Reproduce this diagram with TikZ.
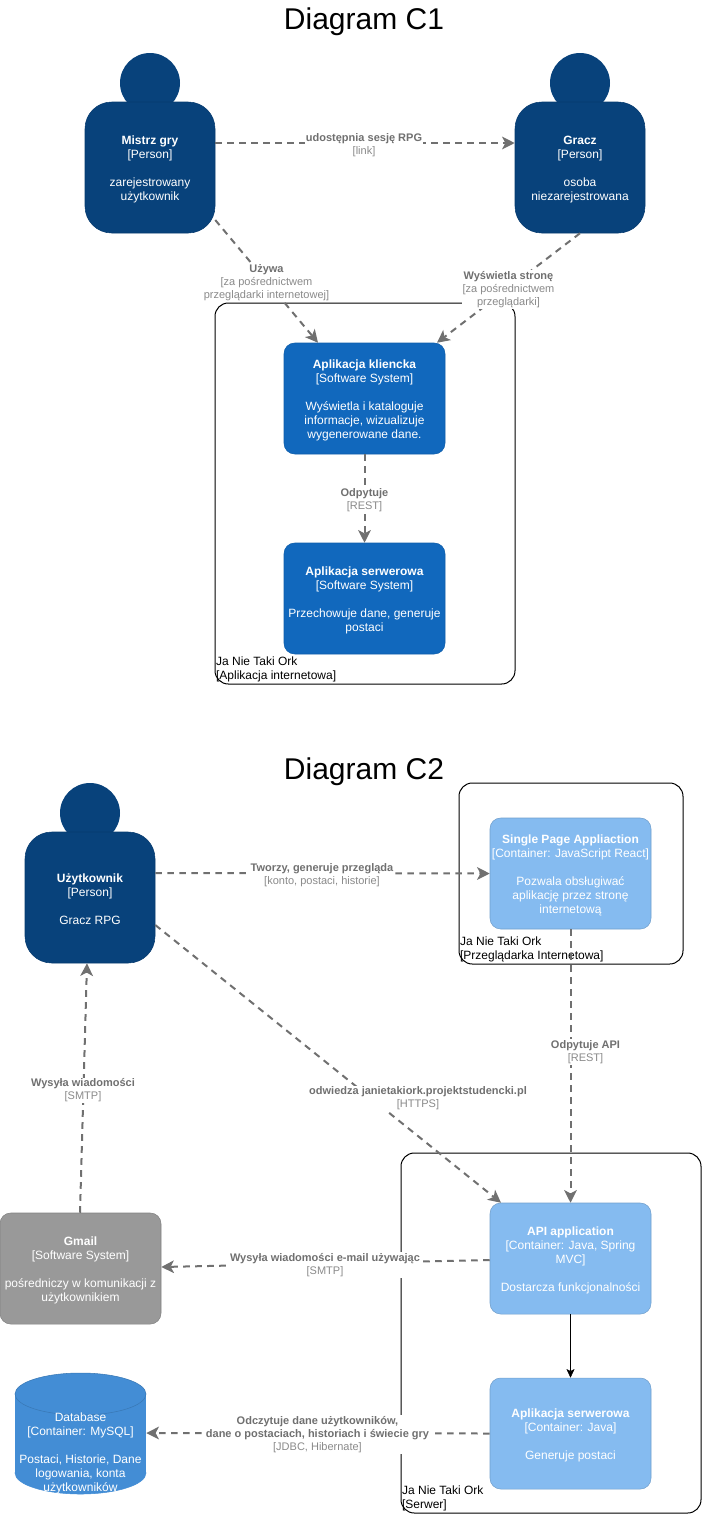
\documentclass[tikz,border=0pt]{standalone}
\usepackage{fontspec}
\setmainfont{Liberation Sans}
\usetikzlibrary{arrows.meta}

\definecolor{personblue}{HTML}{08427B}
\definecolor{systemblue}{HTML}{1168BD}
\definecolor{containerblue}{HTML}{85BBF0}
\definecolor{databaseblue}{HTML}{438DD5}
\definecolor{gmailgray}{HTML}{999999}
\definecolor{relgray}{HTML}{707070}
\definecolor{descgray}{HTML}{8A8A8A}

\newcommand{\reldesc}[1]{{\color{descgray}#1}}
\newcommand{\boxname}[1]{\rule{0pt}{9.5pt}\textbf{#1}}

\tikzset{
  titletext/.style={font=\fontsize{22.5}{26}\selectfont, inner sep=0pt},
  boxbase/.style={rectangle, rounded corners=8pt, draw, text=white, align=center, inner sep=0pt,
    minimum width=120.75pt, minimum height=83.25pt, font=\fontsize{9}{10.5}\selectfont},
  personbody/.style={boxbase, fill=personblue, draw=personblue!90!black, rounded corners=20pt,
    minimum width=97.5pt, minimum height=98.25pt},
  personhead/.style={fill=personblue},
  systembox/.style={boxbase, fill=systemblue, draw=systemblue!90!black},
  containerbox/.style={boxbase, fill=containerblue, draw=containerblue!85!black},
  gmailbox/.style={boxbase, fill=gmailgray, draw=gmailgray!85!black},
  databasebox/.style={text=white, align=center, inner sep=0pt, minimum width=98.25pt,
    font=\fontsize{9}{10.5}\selectfont},
  boundary/.style={rectangle, draw=black, line width=0.75pt, rounded corners=10pt, inner sep=0pt},
  boundarytext/.style={anchor=south west, align=left, inner sep=0pt, xshift=1pt, yshift=1.75pt,
    font=\fontsize{9}{10.5}\selectfont},
  rel/.style={draw=relgray, line width=1.5pt, dash pattern=on 5pt off 4pt,
    -{Stealth[length=9.5pt,width=9.5pt,inset=2.5pt,sep=0pt]}},
  rellabel/.style={fill=white, text=relgray, align=center, inner sep=0.75pt,
    font=\fontsize{8.25}{9.75}\selectfont},
}

\begin{document}
\begin{tikzpicture}[x=0.75pt, y=-0.75pt]
\useasboundingbox (0,0) rectangle (701,1514);

% C1
\node (titleone) [titletext] at (364,22) {Diagram C1};

\node (orkapp) [boundary, minimum width=225pt, minimum height=285.75pt] at (365,493.5) {};
\node (orkapptext) [boundarytext] at (orkapp.south west) {Ja Nie Taki Ork\\{[Aplikacja internetowa]}};

\fill[personhead] (150,83) circle (30);
\node (mistrz) [personbody] at (150,167.5)
  {\boxname{Mistrz gry}\\{[Person]}\\[10.5pt]zarejestrowany\\użytkownik};
\fill[personhead] (580,83) circle (30);
\node (gracz) [personbody] at (580,167.5)
  {\boxname{Gracz}\\{[Person]}\\[10.5pt]osoba\\niezarejestrowana};

\node (klient) [systembox] at (364.5,398.5)
  {\boxname{Aplikacja kliencka}\\{[Software System]}\\[10.5pt]Wyświetla i kataloguje\\informacje, wizualizuje\\wygenerowane dane.};
\node (serwer) [systembox] at (364.5,598.5)
  {\boxname{Aplikacja serwerowa}\\{[Software System]}\\[10.5pt]Przechowuje dane, generuje\\postaci};

\draw[rel] ([shift={(0,-24.5)}]mistrz.east) -- ([shift={(0,-24.5)}]gracz.west);
\draw[rel] ([shift={(0,52.5)}]mistrz.east) -- ([shift={(-46.5,0)}]klient.north);
\draw[rel] (gracz.south) -- ([shift={(72.5,0)}]klient.north);
\draw[rel] (klient.south) -- (serwer.north);

\node (udostepnia) [rellabel] at (364,145) {\textbf{udostępnia sesję RPG}\\\reldesc{[link]}};
\node (uzywa) [rellabel] at (266.5,282.5) {\textbf{Używa}\\\reldesc{[za pośrednictwem}\\\reldesc{przeglądarki internetowej]}};
\node (wyswietla) [rellabel] at (508.5,289.5) {\textbf{Wyświetla stronę}\\\reldesc{[za pośrednictwem}\\\reldesc{przeglądarki]}};
\node (odpytuje) [rellabel] at (364.5,500.5) {\textbf{Odpytuje}\\\reldesc{[REST]}};

% C2
\node (titletwo) [titletext] at (364,772) {Diagram C2};

\node (orkweb) [boundary, minimum width=168pt, minimum height=135.75pt] at (571,873.5) {};
\node (orkwebtext) [boundarytext] at (orkweb.south west) {Ja Nie Taki Ork\\{[Przeglądarka Internetowa]}};
\node (orksrv) [boundary, minimum width=225pt, minimum height=270pt] at (551,1333) {};
\node (orksrvtext) [boundarytext] at (orksrv.south west) {Ja Nie Taki Ork\\{[Serwer]}};

\fill[personhead] (90,813) circle (30);
\node (uzytkownik) [personbody] at (90,897.5)
  {\boxname{Użytkownik}\\{[Person]}\\[10.5pt]Gracz RPG};

\node (spa) [containerbox] at (570.5,873.5)
  {\boxname{Single Page Appliaction}\\{[Container: JavaScript React]}\\[10.5pt]Pozwala obsługiwać\\aplikację przez stronę\\internetową};
\node (api) [containerbox] at (570.5,1258.5)
  {\boxname{API application}\\{[Container: Java, Spring}\\MVC]\\[10.5pt]Dostarcza funkcjonalności};
\node (gen) [containerbox] at (570.5,1433.5)
  {\boxname{Aplikacja serwerowa}\\{[Container: Java]}\\[10.5pt]Generuje postaci};
\node (gmail) [gmailbox] at (80.5,1268.5)
  {\boxname{Gmail}\\{[Software System]}\\[10.5pt]pośredniczy w komunikacji z\\użytkownikiem};

\draw[fill=databaseblue, draw=databaseblue] (80.5,1473) ellipse (65.5 and 21);
\fill[databaseblue] (15,1394) rectangle (146,1473);
\draw[fill=databaseblue, draw=databaseblue!85!black] (80.5,1394) ellipse (65.5 and 21);
\node (database) [databasebox] at (80.5,1453.5)
  {Database\\{[Container: MySQL]}\\[10.5pt]Postaci, Historie, Dane\\logowania, konta\\użytkowników};

\draw[rel] ([shift={(0,-24.5)}]uzytkownik.east) -- (spa.west);
\draw[rel] ([shift={(0,27.5)}]uzytkownik.east) -- ([shift={(-69.5,0)}]api.north);
\draw[rel] (spa.south) -- (api.north);
\draw[rel] ([shift={(-0.5,0)}]gmail.north) -- ([shift={(-3,0)}]uzytkownik.south);
\draw[rel] ([shift={(0,1.5)}]api.west) -- ([shift={(0,-1.5)}]gmail.east);
\draw[rel] (gen.west) -- ([shift={(0,-20.5)}]database.east);
\draw[-{Stealth[length=6.5pt,width=6pt,inset=1.5pt]}] (api.south) -- (gen.north);

\node (tworzy) [rellabel] at (322,875) {\textbf{Tworzy, generuje przegląda}\\\reldesc{[konto, postaci, historie]}};
\node (odwiedza) [rellabel] at (418,1098.5) {\textbf{odwiedza janietakiork.projektstudencki.pl}\\\reldesc{[HTTPS]}};
\node (odpytujeapi) [rellabel] at (585.5,1052) {\textbf{Odpytuje API}\\\reldesc{[REST]}};
\node (wysylajeden) [rellabel] at (83,1090.5) {\textbf{Wysyła wiadomości}\\\reldesc{[SMTP]}};
\node (wysyladwa) [rellabel] at (325,1265) {\textbf{Wysyła wiadomości e-mail używając}\\\reldesc{[SMTP]}};
\node (odczytuje) [rellabel] at (317.5,1434.5) {\textbf{Odczytuje dane użytkowników,}\\\textbf{dane o postaciach, historiach i świecie gry}\\\reldesc{[JDBC, Hibernate]}};
\end{tikzpicture}
\end{document}
